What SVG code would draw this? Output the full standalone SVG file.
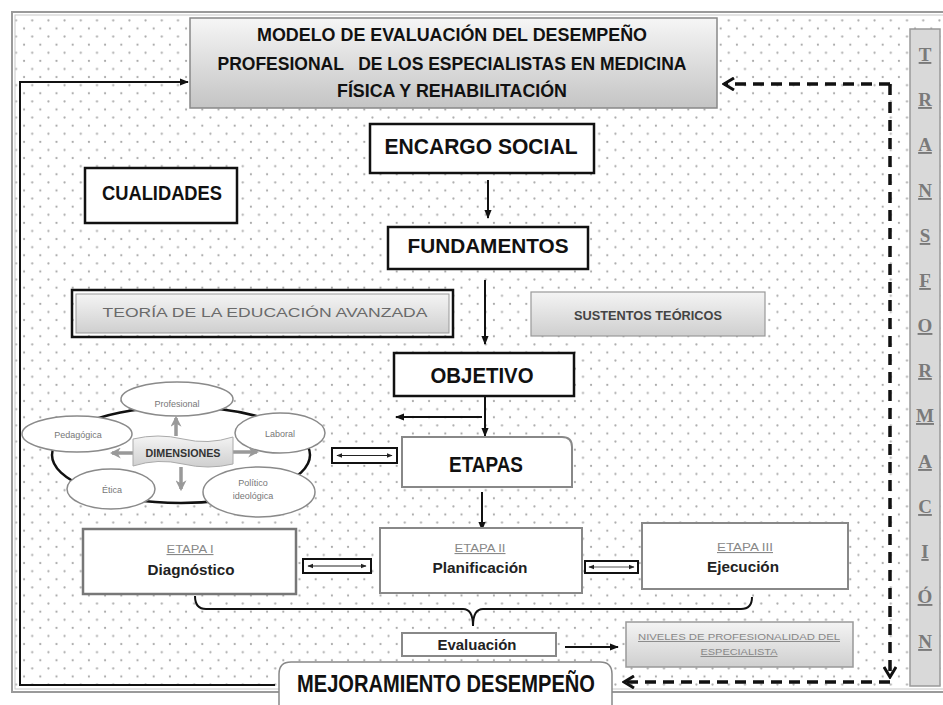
<svg xmlns="http://www.w3.org/2000/svg" width="943" height="705" viewBox="0 0 943 705">
<defs>
  <pattern id="dots" x="7.9" y="12.3" width="16.2" height="16.2" patternUnits="userSpaceOnUse">
    <g fill="#a8a8a8">
      <circle cx="0" cy="0" r="1.1"/>
      <circle cx="16.2" cy="0" r="1.1"/>
      <circle cx="0" cy="16.2" r="1.1"/>
      <circle cx="16.2" cy="16.2" r="1.1"/>
      <circle cx="8.1" cy="8.1" r="1.1"/>
    </g>
  </pattern>
  <linearGradient id="gTitle" x1="0" y1="0" x2="0" y2="1">
    <stop offset="0" stop-color="#f6f6f6"/>
    <stop offset="1" stop-color="#c4c4c4"/>
  </linearGradient>
  <linearGradient id="gBox" x1="0" y1="0" x2="0" y2="1">
    <stop offset="0" stop-color="#f4f4f4"/>
    <stop offset="1" stop-color="#cfcfcf"/>
  </linearGradient>
  <marker id="ah" viewBox="0 0 10 10" refX="9" refY="5" markerWidth="9" markerHeight="9" markerUnits="userSpaceOnUse" orient="auto">
    <path d="M0,1 L10,5 L0,9 Z" fill="#111"/>
  </marker>
  <marker id="ahs" viewBox="0 0 10 10" refX="9" refY="5" markerWidth="6" markerHeight="6" markerUnits="userSpaceOnUse" orient="auto-start-reverse">
    <path d="M0,1 L10,5 L0,9 Z" fill="#222"/>
  </marker>
  <marker id="ahg" viewBox="0 0 10 10" refX="8" refY="5" markerWidth="11" markerHeight="11" markerUnits="userSpaceOnUse" orient="auto">
    <path d="M0,0 L10,5 L0,10 L3,5 Z" fill="#999"/>
  </marker>
  <marker id="chev" viewBox="0 0 14 14" refX="12" refY="7" markerWidth="14" markerHeight="14" markerUnits="userSpaceOnUse" orient="auto">
    <path d="M2,1 L12,7 L2,13" fill="none" stroke="#111" stroke-width="3"/>
  </marker>
  <style>
    .t { font-family: "Liberation Sans", Arial, sans-serif; font-weight: bold; fill: #111; }
    .box { fill: #fff; stroke: #111; stroke-width: 2.5; }
    .gbox { fill: #fff; stroke: #888; stroke-width: 2; }
    .ell { fill: #fff; stroke: #8a8a8a; stroke-width: 1.5; }
    .small { font-family: "Liberation Sans", Arial, sans-serif; fill: #777; }
    .lbl { font-family: "Liberation Sans", Arial, sans-serif; fill: #888; text-decoration: underline; }
    .tr { font-family: "Liberation Serif", "Times New Roman", serif; font-weight: bold; fill: #7a7a7a; font-size: 19px; text-decoration: underline; }
    .conn { fill: none; stroke: #111; stroke-width: 2; }
    .dash { fill: none; stroke: #111; stroke-width: 3.5; stroke-dasharray: 11 7; }
  </style>
</defs>

<!-- background and frame -->
<rect x="0" y="0" width="943" height="705" fill="#fff"/>
<rect x="12" y="12" width="940" height="680" fill="#fff" stroke="#9a9a9a" stroke-width="2"/>
<rect x="15" y="15" width="940" height="674" fill="url(#dots)" stroke="#c8c8c8" stroke-width="1"/>

<!-- connectors -->
<g id="connectors">
  <path class="conn" d="M275,685 H20 V82 H188" stroke-width="2.5" marker-end="url(#ah)"/>
  <path class="dash" d="M890,84 H724" marker-end="url(#chev)"/>
  <path class="dash" d="M890,84 V677" marker-end="url(#chev)"/>
  <path class="dash" d="M890,682 H624" marker-end="url(#chev)"/>
  <path class="conn" d="M488,180 V218" marker-end="url(#ah)"/>
  <path class="conn" d="M485,280 V344" marker-end="url(#ah)"/>
  <path class="conn" d="M485,397 V436" marker-end="url(#ah)"/>
  <path class="conn" d="M482,417 H396" marker-end="url(#ah)"/>
  <path class="conn" d="M482,492 V530" marker-end="url(#ah)"/>
  <path class="conn" d="M565,647 H618" marker-end="url(#ah)"/>
  <path class="conn" stroke-width="2.5" d="M195,596 Q195,609 206,609 H463 Q473,609 473,626 Q473,609 483,609 H741 Q752,609 752,597"/>
  <!-- double arrow boxes -->
  <rect x="332" y="448" width="65" height="15" fill="#fff" stroke="#111" stroke-width="2"/>
  <path d="M337,455.5 H392" stroke="#222" stroke-width="1.2" marker-start="url(#ahs)" marker-end="url(#ahs)"/>
  <rect x="303" y="559" width="68" height="14" fill="#fff" stroke="#111" stroke-width="2"/>
  <path d="M308,566 H366" stroke="#222" stroke-width="1.2" marker-start="url(#ahs)" marker-end="url(#ahs)"/>
  <rect x="585" y="561" width="53" height="12" fill="#fff" stroke="#111" stroke-width="2"/>
  <path d="M589,567 H634" stroke="#555" stroke-width="1" marker-start="url(#ahs)" marker-end="url(#ahs)"/>
</g>

<!-- title -->
<g id="title">
  <rect x="190" y="18" width="527" height="90" fill="url(#gTitle)" stroke="#888" stroke-width="1.5"/>
  <text class="t" x="452" y="41" font-size="18" text-anchor="middle" textLength="390" lengthAdjust="spacingAndGlyphs">MODELO DE EVALUACIÓN DEL DESEMPEÑO</text>
  <text class="t" x="452" y="70" font-size="18" text-anchor="middle" textLength="469" lengthAdjust="spacingAndGlyphs" xml:space="preserve">PROFESIONAL   DE LOS ESPECIALISTAS EN MEDICINA</text>
  <text class="t" x="452" y="97" font-size="18" text-anchor="middle" textLength="230" lengthAdjust="spacingAndGlyphs">FÍSICA Y REHABILITACIÓN</text>
</g>

<g id="encargo">
  <rect class="box" x="370" y="124" width="224" height="49"/>
  <text class="t" x="481" y="154" font-size="22" text-anchor="middle" textLength="193" lengthAdjust="spacingAndGlyphs">ENCARGO SOCIAL</text>
</g>

<g id="cualidades">
  <rect class="box" x="85" y="168" width="152" height="55"/>
  <text class="t" x="162" y="200" font-size="20" text-anchor="middle" textLength="120" lengthAdjust="spacingAndGlyphs">CUALIDADES</text>
</g>

<g id="fundamentos">
  <rect class="box" x="388" y="227" width="200" height="42"/>
  <text class="t" x="488" y="253" font-size="21" text-anchor="middle" textLength="161" lengthAdjust="spacingAndGlyphs">FUNDAMENTOS</text>
</g>

<g id="teoria">
  <rect x="72" y="290" width="381" height="47" fill="none" stroke="#111" stroke-width="2.5"/>
  <rect x="76" y="294" width="373" height="39" fill="url(#gBox)" stroke="#999" stroke-width="1"/>
  <text class="small" x="265" y="317" font-size="12.5" text-anchor="middle" textLength="325" lengthAdjust="spacingAndGlyphs" style="fill:#6a6a6a">TEORÍA DE LA EDUCACIÓN AVANZADA</text>
</g>

<g id="sustentos">
  <rect x="531" y="292" width="234" height="44" fill="url(#gBox)" stroke="#999" stroke-width="1.2"/>
  <text class="t" x="648" y="320" font-size="13" text-anchor="middle" textLength="148" lengthAdjust="spacingAndGlyphs" style="fill:#444">SUSTENTOS TEÓRICOS</text>
</g>

<g id="objetivo">
  <rect class="box" x="394" y="353" width="180" height="43"/>
  <text class="t" x="482" y="383" font-size="22" text-anchor="middle" textLength="103" lengthAdjust="spacingAndGlyphs">OBJETIVO</text>
</g>

<g id="etapas">
  <path d="M402,437 H562 Q572,437 572,447 V487 H402 Z" fill="#fff" stroke="#888" stroke-width="2"/>
  <text class="t" x="486" y="472" font-size="22" text-anchor="middle" textLength="74" lengthAdjust="spacingAndGlyphs">ETAPAS</text>
</g>

<g id="dimensiones">
  <ellipse cx="181" cy="455" rx="129" ry="48" fill="#fff" stroke="#111" stroke-width="2.5"/>
  <ellipse class="ell" cx="177" cy="399" rx="56" ry="17"/>
  <text class="small" x="177" y="407" font-size="9" text-anchor="middle">Profesional</text>
  <ellipse class="ell" cx="77" cy="434" rx="55" ry="18"/>
  <text class="small" x="78" y="438" font-size="9" text-anchor="middle">Pedagógica</text>
  <ellipse class="ell" cx="280" cy="433" rx="45" ry="20"/>
  <text class="small" x="280" y="437" font-size="9" text-anchor="middle">Laboral</text>
  <ellipse class="ell" cx="111" cy="489" rx="44" ry="20"/>
  <text class="small" x="112" y="493" font-size="9" text-anchor="middle">Ética</text>
  <ellipse class="ell" cx="259" cy="492" rx="56" ry="25"/>
  <text class="small" x="253" y="486" font-size="9" text-anchor="middle">Político</text>
  <text class="small" x="253" y="499" font-size="9" text-anchor="middle">ideológica</text>
  <path d="M176,436 V418" stroke="#999" stroke-width="3.5" marker-end="url(#ahg)"/>
  <path d="M133,453 H112" stroke="#999" stroke-width="3.5" marker-end="url(#ahg)"/>
  <path d="M233,452 H257" stroke="#999" stroke-width="3.5" marker-end="url(#ahg)"/>
  <path d="M181,467 V489" stroke="#999" stroke-width="3.5" marker-end="url(#ahg)"/>
  <path d="M133,439 Q158,433 183,439 T233,437 V464 Q208,470 183,464 T133,466 Z" fill="url(#gBox)" stroke="#aaa" stroke-width="1"/>
  <text class="t" x="183" y="457" font-size="10" text-anchor="middle" textLength="75" lengthAdjust="spacingAndGlyphs" style="fill:#333">DIMENSIONES</text>
</g>

<g id="etapa1">
  <rect x="83" y="529" width="213" height="65" fill="#fff" stroke="#777" stroke-width="2.5"/>
  <text class="lbl" x="190" y="553" font-size="11" text-anchor="middle" textLength="47" lengthAdjust="spacingAndGlyphs">ETAPA I</text>
  <text class="t" x="191" y="575" font-size="15" text-anchor="middle" textLength="87" lengthAdjust="spacingAndGlyphs" style="fill:#222">Diagnóstico</text>
</g>

<g id="etapa2">
  <rect class="gbox" x="380" y="528" width="202" height="65" stroke-width="1.5"/>
  <text class="lbl" x="480" y="552" font-size="11" text-anchor="middle" textLength="51" lengthAdjust="spacingAndGlyphs">ETAPA II</text>
  <text class="t" x="480" y="573" font-size="15" text-anchor="middle" textLength="95" lengthAdjust="spacingAndGlyphs" style="fill:#222">Planificación</text>
</g>

<g id="etapa3">
  <rect class="gbox" x="642" y="523" width="206" height="66" stroke-width="1.5"/>
  <text class="lbl" x="745" y="551" font-size="11" text-anchor="middle" textLength="56" lengthAdjust="spacingAndGlyphs">ETAPA III</text>
  <text class="t" x="743" y="572" font-size="15" text-anchor="middle" textLength="72" lengthAdjust="spacingAndGlyphs" style="fill:#222">Ejecución</text>
</g>

<g id="evaluacion">
  <rect class="gbox" x="402" y="633" width="154" height="23" stroke-width="1.5"/>
  <text class="t" x="477" y="650" font-size="14" text-anchor="middle" textLength="79" lengthAdjust="spacingAndGlyphs" style="fill:#222">Evaluación</text>
</g>

<g id="niveles">
  <rect x="626" y="622" width="227" height="45" fill="url(#gBox)" stroke="#999" stroke-width="1.5"/>
  <text class="lbl" x="739" y="640" font-size="9.5" text-anchor="middle" textLength="202" lengthAdjust="spacingAndGlyphs">NIVELES DE PROFESIONALIDAD DEL</text>
  <text class="lbl" x="739" y="655" font-size="9.5" text-anchor="middle" textLength="77" lengthAdjust="spacingAndGlyphs">ESPECIALISTA</text>
</g>

<g id="mejoramiento">
  <path d="M279,706 V674 Q279,662 291,662 H600 Q612,662 612,674 V706" fill="#fff" stroke="#888" stroke-width="1.5"/>
  <text class="t" x="446" y="692" font-size="23" text-anchor="middle" textLength="298" lengthAdjust="spacingAndGlyphs">MEJORAMIENTO DESEMPEÑO</text>
</g>

<g id="transformacion">
  <rect x="910" y="29" width="30" height="657" fill="#d9d9d9" stroke="#999" stroke-width="1.5"/>
  <text class="tr" x="925" y="61" text-anchor="middle">T</text>
  <text class="tr" x="925" y="106" text-anchor="middle">R</text>
  <text class="tr" x="925" y="151" text-anchor="middle">A</text>
  <text class="tr" x="925" y="197" text-anchor="middle">N</text>
  <text class="tr" x="925" y="242" text-anchor="middle">S</text>
  <text class="tr" x="925" y="287" text-anchor="middle">F</text>
  <text class="tr" x="925" y="332" text-anchor="middle">O</text>
  <text class="tr" x="925" y="377" text-anchor="middle">R</text>
  <text class="tr" x="925" y="422" text-anchor="middle">M</text>
  <text class="tr" x="925" y="468" text-anchor="middle">A</text>
  <text class="tr" x="925" y="513" text-anchor="middle">C</text>
  <text class="tr" x="925" y="558" text-anchor="middle">I</text>
  <text class="tr" x="925" y="603" text-anchor="middle">Ó</text>
  <text class="tr" x="925" y="648" text-anchor="middle">N</text>
</g>
</svg>
